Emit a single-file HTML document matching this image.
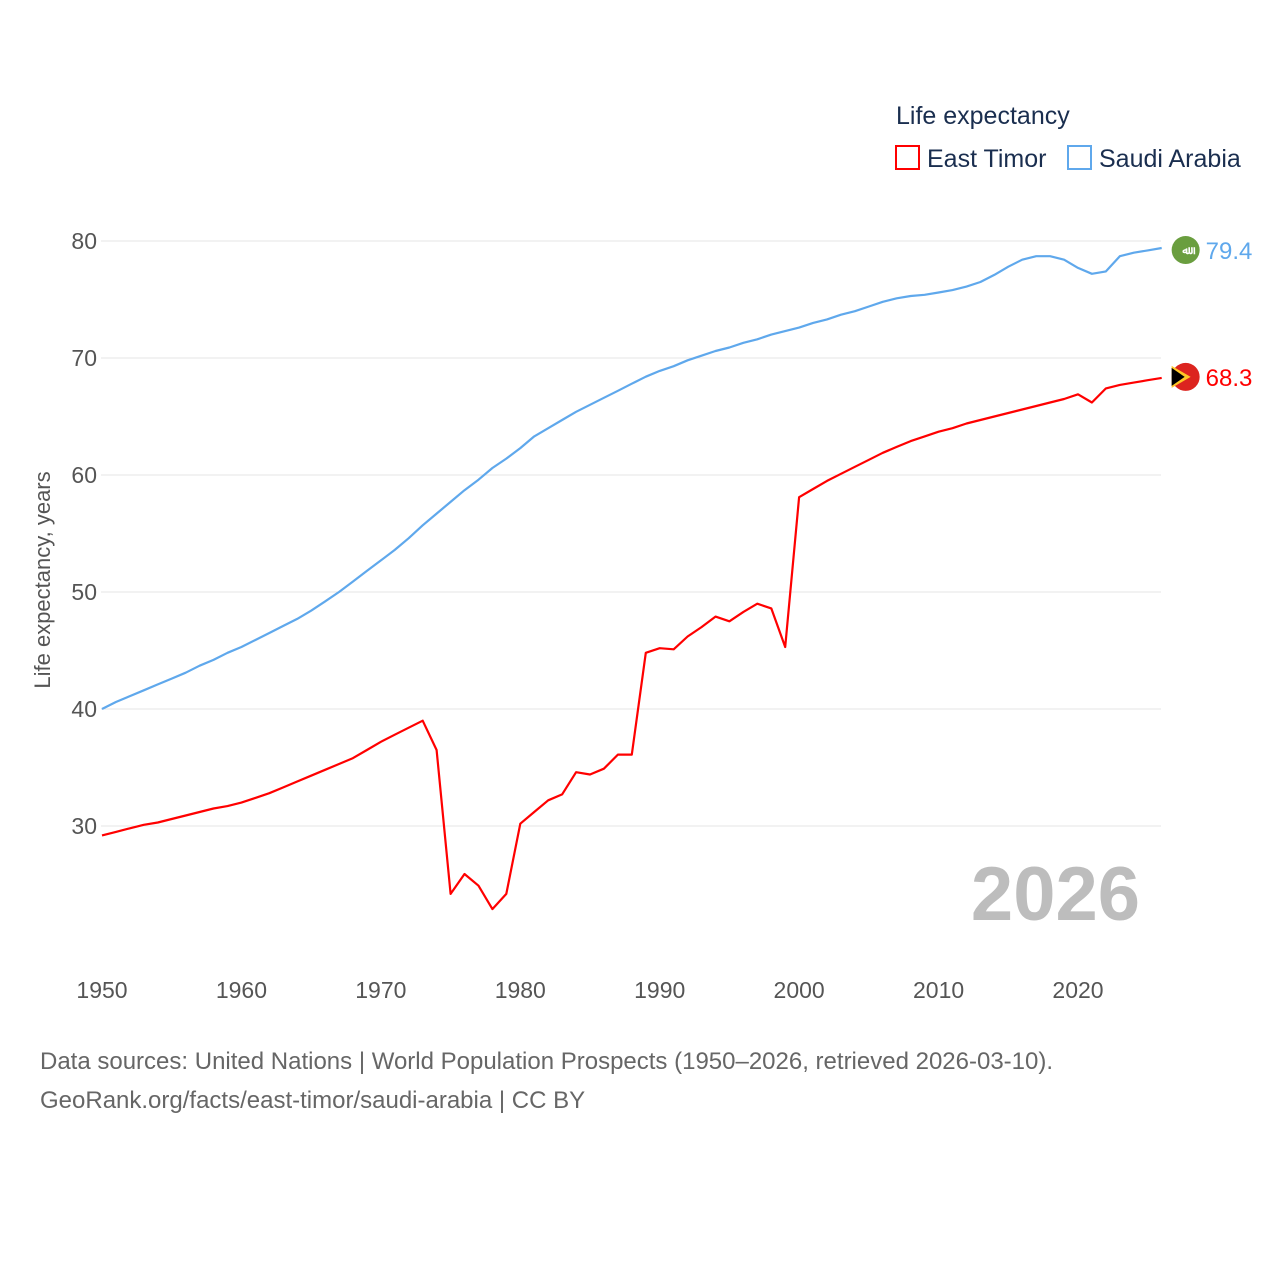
<!DOCTYPE html>
<html><head><meta charset="utf-8"><style>
html,body{margin:0;padding:0;background:#fff;width:1280px;height:1280px;overflow:hidden}
svg{display:block}
text{font-family:"Liberation Sans",sans-serif}
</style></head><body>
<svg id="chart" width="1280" height="1280" viewBox="0 0 1280 1280" xmlns="http://www.w3.org/2000/svg">
<g id="grid"></g>
<g id="yticks"></g>
<g id="xticks"></g>
<text transform="translate(50,580) rotate(-90)" text-anchor="middle" font-size="22" fill="#555">Life expectancy, years</text>
<text x="1140" y="920" text-anchor="end" font-size="76" font-weight="bold" fill="#bdbdbd">2026</text>
<g id="series"></g>
<g>
<text x="896" y="124" font-size="25" fill="#1a2e4f">Life expectancy</text>
<rect x="896" y="146" width="23" height="23" fill="none" stroke="#ff0000" stroke-width="2"/>
<text x="927" y="167" font-size="25" fill="#1a2e4f">East Timor</text>
<rect x="1068" y="146" width="23" height="23" fill="none" stroke="#5fa8ec" stroke-width="2"/>
<text x="1099" y="167" font-size="25" fill="#1a2e4f">Saudi Arabia</text>
</g>
<text x="40" y="1069" font-size="24" fill="#666">Data sources: United Nations | World Population Prospects (1950–2026, retrieved 2026-03-10).</text>
<text x="40" y="1108" font-size="24" fill="#666">GeoRank.org/facts/east-timor/saudi-arabia | CC BY</text>
</svg>
<script>
const years = [];
for (let y = 1950; y <= 2026; y++) years.push(y);
const eastTimor = [29.2,29.5,29.8,30.1,30.3,30.6,30.9,31.2,31.5,31.7,32.0,32.4,32.8,33.3,33.8,34.3,34.8,35.3,35.8,36.5,37.2,37.8,38.4,39.0,36.5,24.2,25.9,24.9,22.9,24.2,30.2,31.2,32.2,32.7,34.6,34.4,34.9,36.1,36.1,44.8,45.2,45.1,46.2,47.0,47.9,47.5,48.3,49.0,48.6,45.3,58.1,58.8,59.5,60.1,60.7,61.3,61.9,62.4,62.9,63.3,63.7,64.0,64.4,64.7,65.0,65.3,65.6,65.9,66.2,66.5,66.9,66.2,67.4,67.7,67.9,68.1,68.3];
const saudi = [40.0,40.6,41.1,41.6,42.1,42.6,43.1,43.7,44.2,44.8,45.3,45.9,46.5,47.1,47.7,48.4,49.2,50.0,50.9,51.8,52.7,53.6,54.6,55.7,56.7,57.7,58.7,59.6,60.6,61.4,62.3,63.3,64.0,64.7,65.4,66.0,66.6,67.2,67.8,68.4,68.9,69.3,69.8,70.2,70.6,70.9,71.3,71.6,72.0,72.3,72.6,73.0,73.3,73.7,74.0,74.4,74.8,75.1,75.3,75.4,75.6,75.8,76.1,76.5,77.1,77.8,78.4,78.7,78.7,78.4,77.7,77.2,77.4,78.7,79.0,79.2,79.4];
const yTickValues = [30,40,50,60,70,80];
const xTickValues = [1950,1960,1970,1980,1990,2000,2010,2020];

const NS = "http://www.w3.org/2000/svg";
const xS = v => 102 + (v - 1950) * (976 / 70);
const yS = v => 826 - (v - 30) * 11.7;
function mk(tag, attrs, parent) {
  const e = document.createElementNS(NS, tag);
  for (const k in attrs) e.setAttribute(k, attrs[k]);
  parent.appendChild(e);
  return e;
}
const grid = document.getElementById('grid'), yt = document.getElementById('yticks'), xt = document.getElementById('xticks'), ser = document.getElementById('series');
yTickValues.forEach(v => {
  const l = mk('line', {x1:101, x2:1161, y1:yS(v), y2:yS(v), stroke:'#e6e6e6', 'stroke-width':1}, grid);
  
  
  const t = mk('text', {x:97, y:yS(v) + 8, 'text-anchor':'end', 'font-size':23, fill:'#555'}, yt);
  t.textContent = v;
  
  
});
xTickValues.forEach(v => {
  const t = mk('text', {x:xS(v), y:998, 'text-anchor':'middle', 'font-size':23, fill:'#555'}, xt);
  t.textContent = v;
  
  
});
function line(vals, color, name) {
  const d = vals.map((v, i) => (i ? 'L' : 'M') + xS(years[i]).toFixed(1) + ',' + yS(v).toFixed(1)).join('');
  const p = mk('path', {d:d, fill:'none', stroke:color, 'stroke-width':2.2, 'stroke-linejoin':'round'}, ser);
  
  
}
line(saudi, '#5fa8ec', 'saudi-arabia-line');
line(eastTimor, '#ff0000', 'east-timor-line');

// end markers
const lastX = xS(years[years.length - 1]);
const sy = yS(saudi[saudi.length - 1]), ey = yS(eastTimor[eastTimor.length - 1]);
const sf = mk('circle', {cx:lastX + 24, cy:sy + 2, r:14, fill:'#6a9e3f'}, ser);


const sfx = mk('text', {x:lastX + 24, y:sy + 6, 'text-anchor':'middle', 'font-size':11, fill:'#fff', 'font-weight':'bold'}, ser);
sfx.textContent = 'ﷲ';


const sl = mk('text', {x:lastX + 44, y:sy + 11, 'font-size':24, fill:'#5fa8ec'}, ser);
sl.textContent = saudi[saudi.length - 1].toFixed(1);



const ec = lastX + 24, ecy = ey - 1;
const ef = mk('circle', {cx:ec, cy:ecy, r:14, fill:'#dc241f'}, ser);


const ey1 = mk('path', {d:`M${ec-14},${ecy-11}L${ec+5},${ecy}L${ec-14},${ecy+11}Z`, fill:'#ffc726'}, ser);


const ey2 = mk('path', {d:`M${ec-14},${ecy-9}L${ec-1},${ecy}L${ec-14},${ecy+9}Z`, fill:'#000'}, ser);


const el = mk('text', {x:lastX + 44, y:ey + 8, 'font-size':24, fill:'#ff0000'}, ser);
el.textContent = eastTimor[eastTimor.length - 1].toFixed(1);


</script>
</body></html>
